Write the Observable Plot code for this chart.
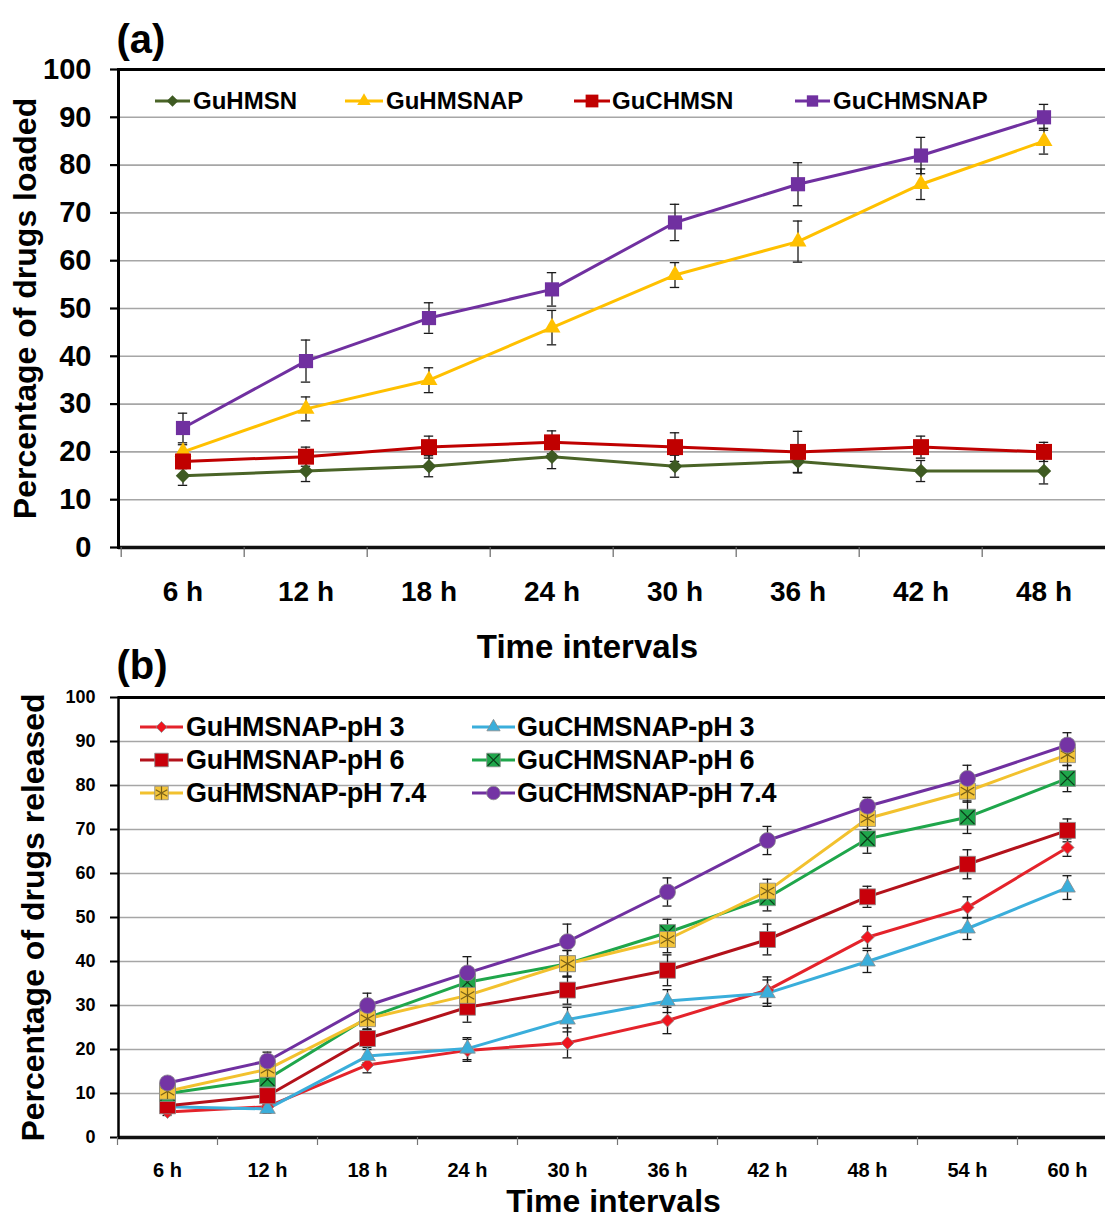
<!DOCTYPE html>
<html><head><meta charset="utf-8">
<script src="https://cdn.jsdelivr.net/npm/d3@7"></script>
<script src="https://cdn.jsdelivr.net/npm/@observablehq/plot@0.6"></script>
<style>
body{margin:0;background:#fff;}
#wrap{position:relative;width:1105px;height:1221px;overflow:hidden;background:#fff;font-family:"Liberation Sans",Arial,Helvetica,sans-serif;font-weight:bold;color:#000;}
#wrap > svg{position:absolute;left:0;}
.lt{position:absolute;white-space:nowrap;}
</style></head><body><div id="wrap"></div>
<script>
// ---------- DATA: chart (a) ----------
const timesA = ["6 h","12 h","18 h","24 h","30 h","36 h","42 h","48 h"];
const namesA = ["GuHMSN","GuHMSNAP","GuCHMSN","GuCHMSNAP"];
const GuHMSN        = [15,16,17,19,17,18,16,16];
const GuHMSN_err    = [2,2.2,2.2,2.5,2.3,2.4,2.2,2.7];
const GuHMSNAP      = [20,29,35,46,57,64,76,85];
const GuHMSNAP_err  = [1.5,2.5,2.6,3.6,2.6,4.3,3.2,2.7];
const GuCHMSN       = [18,19,21,22,21,20,21,20];
const GuCHMSN_err   = [1.5,2,2.3,2.4,3,4.3,2.3,2];
const GuCHMSNAP     = [25,39,48,54,68,76,82,90];
const GuCHMSNAP_err = [3.1,4.4,3.2,3.5,3.8,4.5,3.8,2.7];
const yTicks = [0,10,20,30,40,50,60,70,80,90,100];

// ---------- DATA: chart (b) ----------
const timesB = ["6 h","12 h","18 h","24 h","30 h","36 h","42 h","48 h","54 h","60 h"];
const namesB = ["GuHMSNAP-pH 3","GuCHMSNAP-pH 3","GuHMSNAP-pH 6","GuCHMSNAP-pH 6","GuHMSNAP-pH 7.4","GuCHMSNAP-pH 7.4"];
const H_pH3      = [5.8,7,16.5,19.8,21.5,26.6,33.5,45.5,52.3,65.9];
const H_pH3_err  = [0.8,1,1.8,2.5,3.4,3,3,2.5,2.4,2];
const CH_pH3     = [7,6.5,18.5,20.2,26.8,31,32.8,40,47.5,56.8];
const CH_pH3_err = [1,1,1.5,2.5,2.8,2.6,3,2.5,2.5,2.7];
const H_pH6      = [7.2,9.5,22.5,29.6,33.5,38,45,54.7,62.1,69.8];
const H_pH6_err  = [1.2,1.5,2,3.4,3.2,3.5,3.5,2.4,3.3,2.6];
const CH_pH6     = [10,13.3,27.2,35.3,39.5,46.6,54.5,67.9,72.8,81.6];
const CH_pH6_err = [1,1.5,2.5,3,3,3,3,3.3,3.7,3];
const H_pH74     = [10.5,15.5,27,32.3,39.5,45,56,72.5,78.7,87];
const H_pH74_err = [1,1.5,2.5,3,3,3,2.7,2.5,2.5,2.5];
const CH_pH74    = [12.4,17.4,30,37.4,44.5,55.8,67.5,75.3,81.6,89.2];
const CH_pH74_err= [1,2,2.8,3.7,4,3.2,3.2,2,3,2.8];

// ---------- styles ----------
const FONT = '"Liberation Sans", Arial, Helvetica, sans-serif';
const stylesA = {
  "GuHMSN":    {color:"#4A6427", mfill:"#3E5A22", sym:"diamond2", r:6.5},
  "GuHMSNAP":  {color:"#FFC000", mfill:"#FFC000", sym:"triangle", r:6.3},
  "GuCHMSN":   {color:"#C00000", mfill:"#C00000", sym:"square",   r:9},
  "GuCHMSNAP": {color:"#7030A0", mfill:"#7030A0", sym:"square",   r:8}
};
const stylesB = {
  "GuHMSNAP-pH 3":    {color:"#E4232B", mfill:"#F0141E", sym:"diamond2", r:5.9},
  "GuCHMSNAP-pH 3":   {color:"#3AAEDB", mfill:"#3AAEDB", sym:"triangle", r:5.8},
  "GuHMSNAP-pH 6":    {color:"#B3121B", mfill:"#C8000A", sym:"square",   r:9},
  "GuCHMSNAP-pH 6":   {color:"#1FA64B", mfill:"#1FA64B", sym:"square",   r:9, over:"times", overR:6.4, overStroke:"#0B3B1A"},
  "GuHMSNAP-pH 7.4":  {color:"#F2C12E", mfill:"#F3C43A", sym:"square",   r:9, over:"asterisk", overR:7.4, overStroke:"#7A6118"},
  "GuCHMSNAP-pH 7.4": {color:"#7030A0", mfill:"#7434A4", sym:"circle",   r:8}
};

const seriesA = [
  {name:"GuHMSN", values:GuHMSN, err:GuHMSN_err},
  {name:"GuHMSNAP", values:GuHMSNAP, err:GuHMSNAP_err},
  {name:"GuCHMSN", values:GuCHMSN, err:GuCHMSN_err},
  {name:"GuCHMSNAP", values:GuCHMSNAP, err:GuCHMSNAP_err}
];
const seriesB = [
  {name:namesB[0], values:H_pH3, err:H_pH3_err},
  {name:namesB[1], values:CH_pH3, err:CH_pH3_err},
  {name:namesB[2], values:H_pH6, err:H_pH6_err},
  {name:namesB[3], values:CH_pH6, err:CH_pH6_err},
  {name:namesB[4], values:H_pH74, err:H_pH74_err},
  {name:namesB[5], values:CH_pH74, err:CH_pH74_err}
];
const toRows = (series, times) => series.flatMap(s => times.map((t, i) => ({series: s.name, time: t, value: s.values[i], err: s.err[i]})));
const rowsA = toRows(seriesA, timesA);
const rowsB = toRows(seriesB, timesB);

function seriesMarks(rows, names, styles, lw, capInset, withStroke) {
  const marks = [];
  for (const n of names) {
    const d = rows.filter(r => r.series === n);
    marks.push(Plot.line(d, {x:"time", y:"value", stroke: styles[n].color, strokeWidth: lw, strokeLinejoin:"round"}));
  }
  // error bars
  marks.push(Plot.ruleX(rows, {x:"time", y1: d => d.value - d.err, y2: d => d.value + d.err, stroke:"#1a1a1a", strokeWidth:1.3}));
  marks.push(Plot.tickY(rows, {x:"time", y: d => d.value - d.err, stroke:"#1a1a1a", strokeWidth:1.3, insetLeft: capInset, insetRight: capInset}));
  marks.push(Plot.tickY(rows, {x:"time", y: d => d.value + d.err, stroke:"#1a1a1a", strokeWidth:1.3, insetLeft: capInset, insetRight: capInset}));
  for (const n of names) {
    const d = rows.filter(r => r.series === n);
    const s = styles[n];
    marks.push(Plot.dot(d, {x:"time", y:"value", symbol: s.sym, r: s.r, fill: s.mfill, stroke: withStroke ? "#8a8a8a" : "none", strokeWidth: withStroke ? 0.8 : 0}));
    if (s.over) marks.push(Plot.dot(d, {x:"time", y:"value", symbol: s.over, r: s.overR, stroke: s.overStroke, strokeWidth: 1.2, fill:"none"}));
  }
  return marks;
}

// ---------- Chart (a) ----------
const bwA = (1107 - 118) / timesA.length;
const plotA = Plot.plot({
  width: 1105, height: 680,
  marginLeft: 118, marginRight: 0, marginTop: 69, marginBottom: 133,
  style: {background:"transparent", fontFamily: FONT, fontWeight:"bold", color:"#000", overflow:"visible"},
  x: {type:"band", domain: timesA, range:[118, 1107], padding:0, label:null},
  y: {domain:[0,100], label:null},
  marks: [
    Plot.ruleY(yTicks.filter(v => v > 0 && v < 100), {stroke:"#a6a6a6", strokeWidth:1.6}),
    Plot.ruleY([100], {stroke:"#000", strokeWidth:3}),
    ...seriesMarks(rowsA, namesA, stylesA, 3, bwA/2 - 5, false),
    Plot.ruleY([0], {stroke:"#111", strokeWidth:3.5}),
    Plot.frame({anchor:"left", stroke:"#000", strokeWidth:3}),
    Plot.axisY({ticks: yTicks, tickSize: 8, tickPadding: 19, fontSize: 29, fontWeight:"bold", strokeWidth: 2.2, label: null}),
    Plot.axisX({tickSize: 10, tickFormat: () => "", dx: -bwA/2, strokeWidth: 1.2, stroke:"#666", label: null}),
    Plot.axisX({tickSize: 0, tickPadding: 34, fontSize: 28, fontWeight:"bold", label: null}),
    Plot.text(["(a)"], {text: d => d, frameAnchor:"top-left", textAnchor:"start", lineAnchor:"middle", dx:-2, dy:-29, fontSize: 40, fontWeight:"bold"}),
    Plot.text(["Percentage of drugs loaded"], {text: d => d, frameAnchor:"left", rotate:-90, lineAnchor:"middle", textAnchor:"middle", dx:-93, fontSize: 32, fontWeight:"bold"}),
    Plot.text(["Time intervals"], {text: d => d, frameAnchor:"bottom", lineAnchor:"middle", textAnchor:"middle", dx:-24.5, dy:100, fontSize: 33, fontWeight:"bold"})
  ]
});
plotA.style.top = "0px";

// ---------- Chart (b) ----------
const bwB = 100;
const plotB = Plot.plot({
  width: 1105, height: 581,
  marginLeft: 118, marginRight: 0, marginTop: 57, marginBottom: 84,
  style: {background:"transparent", fontFamily: FONT, fontWeight:"bold", color:"#000", overflow:"visible"},
  x: {type:"band", domain: timesB, range:[117, 1117], padding:0, label:null},
  y: {domain:[0,100], label:null},
  marks: [
    Plot.ruleY(yTicks.filter(v => v > 0 && v < 100), {stroke:"#a6a6a6", strokeWidth:1.4}),
    Plot.ruleY([100], {stroke:"#000", strokeWidth:3}),
    ...seriesMarks(rowsB, namesB, stylesB, 3, bwB/2 - 4.5, true),
    Plot.ruleY([0], {stroke:"#111", strokeWidth:3.5}),
    Plot.frame({anchor:"left", stroke:"#000", strokeWidth:2.5}),
    Plot.axisY({ticks: yTicks, tickSize: 8, tickPadding: 15, fontSize: 18, fontWeight:"bold", strokeWidth: 2, label: null}),
    Plot.axisX({tickSize: 8, tickFormat: () => "", dx: -bwB/2, strokeWidth: 1.2, stroke:"#777", label: null}),
    Plot.axisX({tickSize: 0, tickPadding: 25, fontSize: 20, fontWeight:"bold", letterSpacing: "-0.8px", label: null}),
    Plot.text(["(b)"], {text: d => d, frameAnchor:"top-left", textAnchor:"start", lineAnchor:"middle", dx:-2, dy:-31, fontSize: 40, fontWeight:"bold"}),
    Plot.text(["Percentage of drugs released"], {text: d => d, frameAnchor:"left", rotate:-90, lineAnchor:"middle", textAnchor:"middle", dx:-85, fontSize: 32, fontWeight:"bold"}),
    Plot.text(["Time intervals"], {text: d => d, frameAnchor:"bottom", lineAnchor:"middle", textAnchor:"middle", dx:1.5, dy:64, fontSize: 32, fontWeight:"bold", letterSpacing:"-0.5px"})
  ]
});
plotB.style.top = "640px";

const wrap = document.getElementById("wrap");
wrap.appendChild(plotA);
wrap.appendChild(plotB);

// ---------- Legends (HTML overlays) ----------
const d3sym = {diamond2: d3.symbolDiamond2, square: d3.symbolSquare, triangle: d3.symbolTriangle, circle: d3.symbolCircle, times: d3.symbolTimes, asterisk: d3.symbolAsterisk};
function addLegend(names, styles, layout, fontSize, scale, withStroke, letterSpacing) {
  names.forEach((n, i) => {
    const L = layout[i], s = styles[n];
    const w = L.x2 - L.x1, h = 30;
    const svg = d3.create("svg").attr("width", w).attr("height", h)
      .style("position","absolute").style("left", L.x1 + "px").style("top", (L.y - h/2) + "px").style("overflow","visible");
    svg.append("line").attr("x1",0).attr("x2",w).attr("y1",h/2).attr("y2",h/2).attr("stroke", s.color).attr("stroke-width",3);
    const r = s.r * scale;
    svg.append("path").attr("transform", `translate(${w/2},${h/2})`)
      .attr("d", d3.symbol(d3sym[s.sym], Math.PI * r * r)())
      .attr("fill", s.mfill).attr("stroke", withStroke ? "#8a8a8a" : "none").attr("stroke-width", 0.8);
    if (s.over) {
      const ro = s.overR * scale;
      svg.append("path").attr("transform", `translate(${w/2},${h/2})`)
        .attr("d", d3.symbol(d3sym[s.over], Math.PI * ro * ro)())
        .attr("fill","none").attr("stroke", s.overStroke).attr("stroke-width",1.2);
    }
    wrap.appendChild(svg.node());
    const t = document.createElement("div");
    t.className = "lt";
    t.textContent = n;
    t.style.left = L.tx + "px";
    t.style.fontSize = fontSize + "px";
    t.style.lineHeight = (fontSize * 1.2) + "px";
    t.style.top = (L.y - 0.59 * fontSize) + "px";
    if (letterSpacing) t.style.letterSpacing = letterSpacing;
    wrap.appendChild(t);
  });
}
addLegend(namesA, stylesA, [
  {x1:155, x2:190, tx:193, y:101},
  {x1:345, x2:383, tx:386, y:101},
  {x1:574, x2:610, tx:612, y:101},
  {x1:795, x2:830, tx:833, y:101}
], 24, 0.8, false, null);
addLegend(namesB, stylesB, [
  {x1:140, x2:183, tx:186, y:727},
  {x1:472, x2:515, tx:517, y:727},
  {x1:140, x2:183, tx:186, y:760},
  {x1:472, x2:515, tx:517, y:760},
  {x1:140, x2:183, tx:186, y:793},
  {x1:472, x2:515, tx:517, y:793}
], 27, 0.85, true, "-0.3px");
</script>
</body></html>
